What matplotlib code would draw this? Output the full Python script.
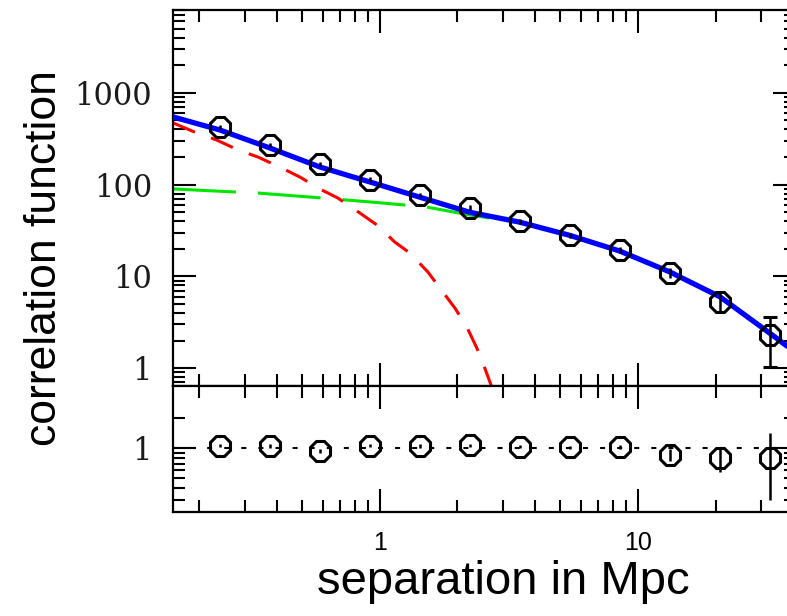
import numpy as np
import matplotlib
matplotlib.use("Agg")
import matplotlib.pyplot as plt
from matplotlib.ticker import FixedLocator, NullFormatter, FixedFormatter

# measured correlation function
r_sep = [0.240, 0.375, 0.585, 0.915, 1.43, 2.23, 3.49, 5.45, 8.51, 13.3, 20.8, 32.5]
xi = [425, 271, 168, 113, 77, 56, 40, 28, 19.4, 10.9, 5.3, 2.3]
xi_err_lo = [25, 16, 10, 7, 4.5, 3.3, 2.4, 1.7, 1.3, 1.3, 1.2, 1.27]
xi_err_hi = [25, 16, 10, 7, 4.5, 3.3, 2.4, 1.7, 1.3, 1.3, 1.5, 1.3]

# data / model ratio
ratio = [1.06, 1.05, 0.93, 1.06, 1.05, 1.07, 1.03, 1.02, 1.02, 0.86, 0.79, 0.80]
ratio_err_lo = [0.04, 0.04, 0.04, 0.04, 0.04, 0.04, 0.04, 0.04, 0.05, 0.12, 0.22, 0.50]
ratio_err_hi = [0.04, 0.04, 0.04, 0.04, 0.04, 0.04, 0.04, 0.04, 0.05, 0.12, 0.22, 0.60]

# model curves
total_r = [0.158, 0.24, 0.375, 0.585, 0.915, 1.43, 2.23, 3.49, 5.45, 8.51, 13.3, 20.8, 32.5, 40.0]
total_xi = [547, 394, 251, 156, 107, 73, 50, 39, 28, 18.9, 11.2, 6.0, 2.4, 1.55]

one_halo_r = [0.158, 0.195, 0.233, 0.282, 0.337, 0.417, 0.490, 0.596, 0.687, 0.837, 0.974,
              1.143, 1.307, 1.535, 1.709, 1.954, 2.174, 2.377, 2.553, 2.718]
one_halo_xi = [471, 366, 307, 239, 200, 152, 121, 87.5, 71.6, 49.1, 36.4,
               23.7, 18.0, 11.2, 7.48, 4.53, 2.81, 1.66, 1.0, 0.62]

two_halo_r = [0.158, 0.279, 0.337, 0.596, 0.915, 1.25, 1.52, 2.23, 3.49, 5.45, 8.51, 13.3, 20.8, 32.5, 40.0]
two_halo_xi = [89.8, 83, 81, 71.6, 64.8, 60, 57, 46.7, 38.5, 28, 18.9, 11.2, 6.0, 2.4, 1.55]

plt.rcParams['font.family'] = 'Liberation Sans'

fig = plt.figure(figsize=(7.87, 6.16), dpi=100)
ax1 = fig.add_axes([0.2198, 0.3734, 0.7916, 0.6104])
ax2 = fig.add_axes([0.2198, 0.1688, 0.7916, 0.2045])

for ax in (ax1, ax2):
    ax.set_xscale('log')
    ax.set_yscale('log')
    ax.set_xlim(0.158, 41)
    for s in ax.spines.values():
        s.set_linewidth(1.6)
    ax.tick_params(which='both', direction='in', top=True, right=True, width=1.5, color='black')
    ax.tick_params(which='major', length=16.5)
    ax.tick_params(which='minor', length=8.5)

# top panel: two-halo, one-halo and total model, then the measurements
ax1.plot(two_halo_r, two_halo_xi, color='#00e600', lw=2.2, dashes=(20.6, 7.2), zorder=2)
ax1.plot(one_halo_r, one_halo_xi, color='#ff0000', lw=2.2, dashes=(7.8, 5.6), zorder=2)
ax1.plot(total_r, total_xi, color='#0000ff', lw=3.8, zorder=3, solid_capstyle='butt')
ax1.errorbar(r_sep[:-1], xi[:-1], yerr=[xi_err_lo[:-1], xi_err_hi[:-1]], fmt='8', ms=16,
             mfc='none', mec='black', mew=2.2, ecolor='black', elinewidth=1.8, capsize=0, zorder=4)
ax1.errorbar(r_sep[-1:], xi[-1:], yerr=[xi_err_lo[-1:], xi_err_hi[-1:]], fmt='8', ms=16,
             mfc='none', mec='black', mew=2.2, ecolor='black', elinewidth=1.8, capsize=5,
             capthick=1.8, zorder=4)
ax1.set_ylim(0.64, 8000)
ax1.yaxis.set_major_locator(FixedLocator([1, 10, 100, 1000]))
ax1.yaxis.set_major_formatter(FixedFormatter(['1', '10', '100', '1000']))
ax1.xaxis.set_major_formatter(NullFormatter())
ax1.xaxis.set_minor_formatter(NullFormatter())
ax1.yaxis.set_minor_formatter(NullFormatter())
ax1.tick_params(axis='y', which='major', pad=15, labelsize=22, labelcolor='#1a1a1a')
for t in ax1.get_yticklabels():
    t.set_family('DejaVu Serif')

# bottom panel: ratio to the model
ax2.axhline(1.0, color='black', lw=1.5, dashes=(2.4, 5.8), zorder=1)
ax2.errorbar(r_sep, ratio, yerr=[ratio_err_lo, ratio_err_hi], fmt='8', ms=15.5,
             mfc='none', mec='black', mew=2.2, ecolor='black', elinewidth=1.8, capsize=0, zorder=4)
ax2.set_ylim(0.229, 4.17)
ax2.yaxis.set_major_locator(FixedLocator([1]))
ax2.yaxis.set_major_formatter(FixedFormatter(['1']))
ax2.yaxis.set_minor_locator(FixedLocator([0.3, 0.4, 0.5, 0.6, 0.7, 0.8, 0.9, 2]))
ax2.yaxis.set_minor_formatter(NullFormatter())
ax2.xaxis.set_major_locator(FixedLocator([1, 10]))
ax2.xaxis.set_major_formatter(FixedFormatter(['1', '10']))
ax2.xaxis.set_minor_formatter(NullFormatter())
ax2.tick_params(axis='y', which='major', pad=15, labelsize=22, labelcolor='#1a1a1a')
ax2.tick_params(axis='x', which='major', pad=14, labelsize=18)
for t in ax2.get_yticklabels():
    t.set_family('DejaVu Serif')

fig.text(0.057, 0.581, 'correlation function', rotation=90, fontsize=32,
         ha='center', va='center')
fig.text(0.64, 0.056, 'separation in Mpc', fontsize=34, ha='center', va='center')

fig.savefig('out.png', dpi=100)
